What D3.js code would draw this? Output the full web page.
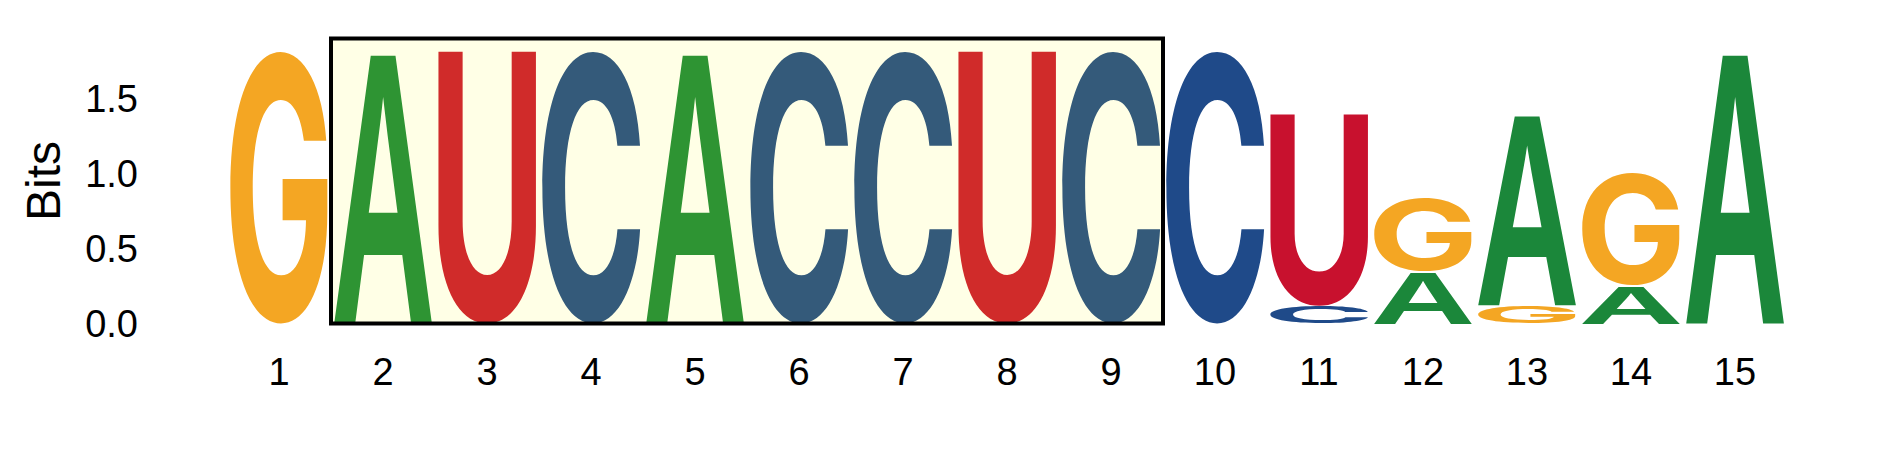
<!DOCTYPE html>
<html>
<head>
<meta charset="utf-8">
<script src="https://cdn.jsdelivr.net/npm/d3@7"></script>
<style>
  body { margin: 0; background: #fff; }
  text { font-family: "Liberation Sans", Arial, sans-serif; }
</style>
</head>
<body>
<script>
// positions along the motif and the bits carried by each base
var positions = [1, 2, 3, 4, 5, 6, 7, 8, 9, 10, 11, 12, 13, 14, 15];
var bitsA = [0, 1.817, 0, 0, 1.817, 0, 0, 0, 0, 0, 0, 0.345, 1.285, 0.248, 1.817];
var bitsC = [0, 0, 0, 1.817, 0, 1.817, 1.817, 0, 1.817, 1.817, 0.113, 0, 0, 0, 0];
var bitsG = [1.817, 0, 0, 0, 0, 0, 0, 0, 0, 0, 0, 0.493, 0.117, 0.757, 0];
var bitsU = [0, 0, 1.817, 0, 0, 0, 0, 1.817, 0, 0, 1.285, 0, 0, 0, 0];
var yTicks = [0, 0.5, 1, 1.5];
var yMax = 1.9;
var highlight = [2, 9];   // boxed region (first, last position)

var width = 1889;
var height = 472;

var bases = ["A", "C", "G", "U"];
var bits = { A: bitsA, C: bitsC, G: bitsG, U: bitsU };

// colours outside / inside the highlighted box
var colorOut = { A: "#1b873a", C: "#1f4a89", G: "#f4a623", U: "#c8112e" };
var colorIn  = { A: "#2e9433", C: "#345a7a", G: "#f4a623", U: "#d02b2a" };

// flat-topped A from Liberation, flat-cut C/G/U from Inter
var letterFont = { A: "Liberation Sans", C: "Inter", G: "Inter", U: "Inter" };

var svg = d3.select("body").append("svg")
    .attr("width", width)
    .attr("height", height);

var x = d3.scaleBand()
    .domain(positions)
    .range([227, 227 + 104 * positions.length]);

var y = d3.scaleLinear()
    .domain([0, yMax])
    .range([323.5, 38.5]);

// ink bounds of each glyph, so letters can be stretched to fill their slot
var ctx = document.createElement("canvas").getContext("2d");
var fontSize = 100;
var ink = {};
bases.forEach(function(b) {
    ctx.font = "bold " + fontSize + "px '" + letterFont[b] + "'";
    var m = ctx.measureText(b);
    ink[b] = {
        left: m.actualBoundingBoxLeft,
        right: m.actualBoundingBoxRight,
        asc: m.actualBoundingBoxAscent,
        desc: m.actualBoundingBoxDescent
    };
});

// stack per position: smallest at the bottom
var stacks = positions.map(function(p, i) {
    var items = bases.map(function(b) { return { base: b, value: bits[b][i] }; })
        .filter(function(d) { return d.value > 0; })
        .sort(function(a, b) { return a.value - b.value; });
    var y0 = 0;
    items.forEach(function(d) {
        d.y0 = y0;
        d.y1 = y0 + d.value;
        d.pos = p;
        y0 = d.y1;
    });
    return items;
});

function inBox(p) { return p >= highlight[0] && p <= highlight[1]; }

// highlighted box background
var boxX0 = x(highlight[0]);
var boxX1 = x(highlight[1]) + x.bandwidth();
svg.append("rect")
    .attr("x", boxX0)
    .attr("y", y(yMax))
    .attr("width", boxX1 - boxX0)
    .attr("height", y(0) - y(yMax))
    .attr("fill", "#ffffe6");

// letters
var inset = 2.5;
var letters = svg.append("g");
stacks.forEach(function(items) {
    items.forEach(function(d) {
        var g = ink[d.base];
        var gap = d.y0 > 0 ? 0.8 : 0;
        var w = x.bandwidth() - 2 * inset;
        var top = y(d.y1);
        var h = y(d.y0) - top - gap;
        var sx = w / (g.left + g.right);
        var sy = h / (g.asc + g.desc);
        letters.append("text")
            .text(d.base)
            .attr("font-size", fontSize)
            .attr("font-weight", "bold")
            .style("font-family", "'" + letterFont[d.base] + "'")
            .attr("fill", inBox(d.pos) ? colorIn[d.base] : colorOut[d.base])
            .attr("transform", "translate(" + (x(d.pos) + inset) + "," + top + ") scale(" + sx + "," + sy + ") translate(" + g.left + "," + g.asc + ")");
    });
});

// box outline on top
svg.append("rect")
    .attr("x", boxX0)
    .attr("y", y(yMax))
    .attr("width", boxX1 - boxX0)
    .attr("height", y(0) - y(yMax))
    .attr("fill", "none")
    .attr("stroke", "#000")
    .attr("stroke-width", 4);

// y tick labels
svg.selectAll(".ytick")
    .data(yTicks)
    .enter().append("text")
    .attr("class", "ytick")
    .attr("x", 138)
    .attr("y", function(d) { return y(d); })
    .attr("dy", "0.36em")
    .attr("text-anchor", "end")
    .style("font-size", "38px")
    .text(function(d) { return d3.format(".1f")(d); });

// x tick labels
svg.selectAll(".xtick")
    .data(positions)
    .enter().append("text")
    .attr("class", "xtick")
    .attr("x", function(d) { return x(d) + x.bandwidth() / 2; })
    .attr("y", y(0) + 61.5)
    .attr("text-anchor", "middle")
    .style("font-size", "38px")
    .text(function(d) { return d; });

// axis title
svg.append("text")
    .attr("transform", "translate(60," + y(yMax / 2) + ") rotate(-90)")
    .attr("text-anchor", "middle")
    .style("font-size", "48px")
    .text("Bits");
</script>
</body>
</html>
